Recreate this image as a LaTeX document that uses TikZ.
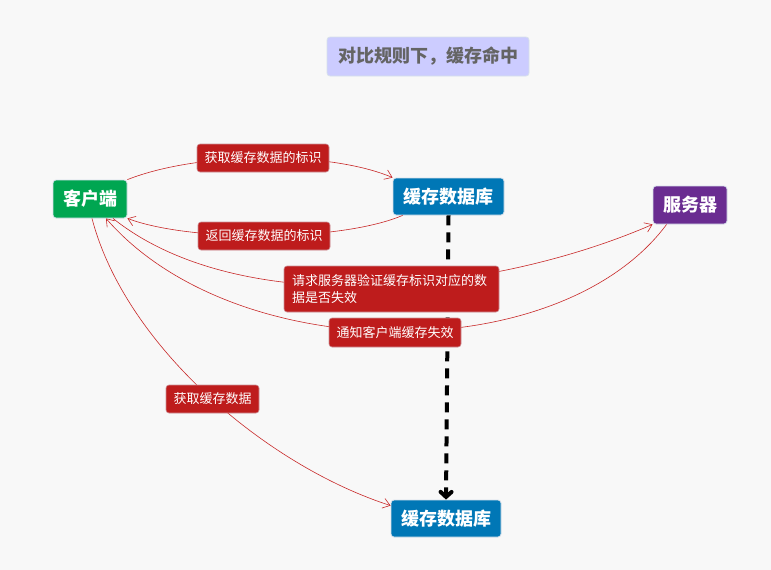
\documentclass[tikz,border=0pt]{standalone}
\usepackage{fontspec}
\setmainfont{Noto Sans CJK SC}
\usetikzlibrary{arrows.meta}
\definecolor{bg}{RGB}{248,248,248}
\definecolor{titlefill}{RGB}{204,204,255}
\definecolor{titletext}{RGB}{100,100,100}
\definecolor{cgreen}{RGB}{0,166,81}
\definecolor{cblue}{RGB}{0,119,182}
\definecolor{cpurple}{RGB}{106,44,145}
\definecolor{cred}{RGB}{190,28,28}
\definecolor{cline}{RGB}{200,40,40}
\definecolor{cborder}{RGB}{215,225,235}
\tikzset{
  mainbox/.style={draw=cborder, line width=0.8pt, rounded corners=3pt, text=white,
    font=\fontsize{18}{20}\selectfont\bfseries, inner sep=0pt, align=center},
  lblbox/.style={draw=cborder!60!cred, line width=0.6pt, fill=cred, rounded corners=3pt, text=white,
    font=\fontsize{13}{17}\selectfont, inner sep=0pt, align=center},
  conn/.style={draw=cline, line width=0.6pt, -{Straight Barb[length=7pt,width=10pt]}},
  dashconn/.style={draw=black, line width=4pt, dash pattern=on 10pt off 7pt,
    -{Straight Barb[length=5pt,width=11pt,line cap=round]}}
}
\begin{document}
\begin{tikzpicture}[x=1pt,y=-1pt]
\fill[bg] (0,0) rectangle (771,570);
\useasboundingbox (0,0) rectangle (771,570);

\node[mainbox, fill=titlefill, text=titletext, minimum width=202pt, minimum height=39pt] (title) at (428,56.5) {对比规则下，缓存命中};
\node[mainbox, fill=cgreen, minimum width=74pt, minimum height=38pt] (client) at (90,199) {客户端};
\node[mainbox, fill=cblue, minimum width=111pt, minimum height=37pt] (db1) at (448.5,196.5) {缓存数据库};
\node[mainbox, fill=cpurple, minimum width=74pt, minimum height=38pt] (server) at (690,205) {服务器};
\node[mainbox, fill=cblue, minimum width=110pt, minimum height=37pt] (db2) at (446,518.5) {缓存数据库};

% connectors
\draw[dashconn] (db1.south) -- (db2.north);
\draw[conn] (client.north east) .. controls (200,151) and (330,151) .. (db1.north west);
\draw[conn] ([xshift=10pt]db1.south west) .. controls (340,242) and (190,242) .. (client.south east);
\draw[conn] ([xshift=23pt]client.south) .. controls (240,320) and (490,295) .. (server.south west);
\draw[conn] ([xshift=14pt]server.south west) .. controls (560,368) and (236,368) .. ([xshift=16pt]client.south);
\draw[conn] ([xshift=2pt]client.south) .. controls (125,345) and (265,465) .. ([yshift=-6pt]db2.north west);

% labels
\node[lblbox, minimum width=132pt, minimum height=28pt] (l1) at (263,158) {获取缓存数据的标识};
\node[lblbox, minimum width=132pt, minimum height=28pt] (l2) at (264,236) {返回缓存数据的标识};
\node[lblbox, minimum width=215pt, minimum height=46pt, align=left, text width=199pt] (l3) at (391.5,289) {请求服务器验证缓存标识对应的数\\据是否失效};
\node[lblbox, minimum width=132pt, minimum height=29pt] (l4) at (395,332.5) {通知客户端缓存失效};
\node[lblbox, minimum width=93pt, minimum height=28pt] (l5) at (212.5,399) {获取缓存数据};
\end{tikzpicture}
\end{document}
